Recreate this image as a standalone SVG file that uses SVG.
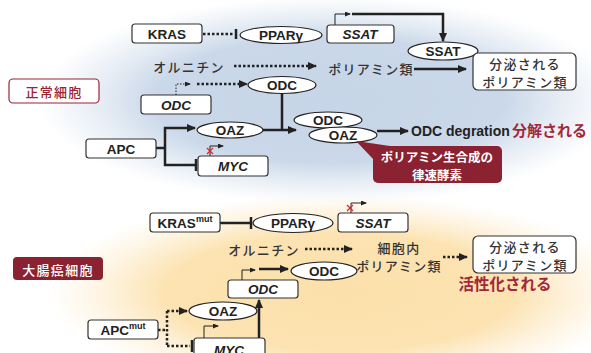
<svg xmlns="http://www.w3.org/2000/svg" width="591" height="353" viewBox="0 0 591 353">
<defs>
<radialGradient id="gBlue" cx="0.5" cy="0.5" r="0.5">
<stop offset="0" stop-color="#c6d5e7"/>
<stop offset="0.6" stop-color="#cad8e9"/>
<stop offset="1" stop-color="#d6e1ee" stop-opacity="0"/>
</radialGradient>
<radialGradient id="gBeige" cx="0.5" cy="0.5" r="0.5">
<stop offset="0" stop-color="#fbe0aa"/>
<stop offset="0.6" stop-color="#fce3b2"/>
<stop offset="1" stop-color="#fdebc8" stop-opacity="0"/>
</radialGradient>
<marker id="ah" markerWidth="9" markerHeight="8" refX="8" refY="4" orient="auto" markerUnits="userSpaceOnUse"><path d="M0,0 L9,4 L0,8 z" fill="#222"/></marker>
<marker id="ahs" markerWidth="6" markerHeight="5" refX="5" refY="2.5" orient="auto" markerUnits="userSpaceOnUse"><path d="M0,0 L6,2.5 L0,5 z" fill="#222"/></marker>
<style>
.box{fill:#fff;stroke:#333;stroke-width:1.2}
.ell{fill:#fff;stroke:#222;stroke-width:1.2}
.t{font-family:"Liberation Sans",Arial,sans-serif;font-weight:bold;font-size:13.5px;fill:#222;text-anchor:middle;dominant-baseline:central}
.ti{font-style:italic}
.jp{font-family:"Noto Sans CJK JP","Noto Sans",sans-serif;font-size:13px;fill:#333;font-weight:500;letter-spacing:1.3px;text-anchor:middle;dominant-baseline:central}
.s{fill:none;stroke:#222;stroke-width:2.5}
.d{fill:none;stroke:#222;stroke-width:2.5;stroke-dasharray:2.5 2}
.p{fill:none;stroke:#222;stroke-width:1}
.pd{fill:none;stroke:#222;stroke-width:1;stroke-dasharray:1.5 1.5}
.x{stroke:#d8282e;stroke-width:1.3}
.red{font-family:"Noto Sans CJK JP","Noto Sans",sans-serif;font-weight:bold;fill:#a3273a;dominant-baseline:central}
.wt{font-family:"Noto Sans CJK JP","Noto Sans",sans-serif;font-weight:bold;font-size:12.5px;fill:#fff;text-anchor:middle;dominant-baseline:central}
</style>
</defs>

<g id="backgrounds">
<ellipse cx="330" cy="100" rx="292" ry="104" fill="url(#gBlue)"/>
<ellipse cx="340" cy="292" rx="292" ry="98" fill="url(#gBeige)"/>
</g>

<g id="connectors">
<!-- top -->
<path class="d" d="M203,34 H234"/>
<line class="s" x1="236" y1="29" x2="236" y2="39"/>
<path class="p" d="M335,25 V14 H350" marker-end="url(#ahs)"/>
<path class="s" d="M352,14 H443 V41" marker-end="url(#ah)"/>
<path class="d" d="M234,66 H316" marker-end="url(#ah)"/>
<path class="s" d="M414,69 H466" marker-end="url(#ah)"/>
<path class="pd" d="M176,95 V84 H190" marker-end="url(#ahs)"/>
<path class="d" d="M197,84 H247" marker-end="url(#ah)"/>
<path class="s" d="M282,93.5 V130"/>
<path class="s" d="M263,130 H296" marker-end="url(#ah)"/>
<path class="s" d="M377,131 H408" marker-end="url(#ah)"/>
<path class="s" d="M156,148 H165 M165,127 V166"/>
<path class="s" d="M164,128 H195" marker-end="url(#ah)"/>
<path class="s" d="M164,165 H195"/>
<line class="s" x1="196" y1="159" x2="196" y2="171"/>
<path class="p" d="M210,156 V146 H223" marker-end="url(#ahs)"/>
<line class="x" x1="207" y1="148" x2="213" y2="154"/>
<line class="x" x1="213" y1="148" x2="207" y2="154"/>
<!-- bottom -->
<path class="s" d="M220,223 H250"/>
<line class="s" x1="251" y1="217" x2="251" y2="229"/>
<path class="p" d="M351,213 V203 H366" marker-end="url(#ahs)"/>
<line class="x" x1="347" y1="205" x2="353" y2="211"/>
<line class="x" x1="353" y1="205" x2="347" y2="211"/>
<path class="d" d="M305,249 H352" marker-end="url(#ah)"/>
<path class="d" d="M443,257 H467" marker-end="url(#ah)"/>
<path class="p" d="M242,280 V270 H255" marker-end="url(#ahs)"/>
<path class="s" d="M259,269 H288" marker-end="url(#ah)"/>
<path class="d" d="M158,330 H167 M167,311 V346"/>
<path class="d" d="M167,311 H187" marker-end="url(#ah)"/>
<path class="d" d="M167,346 H190"/>
<line class="s" x1="192" y1="340" x2="192" y2="352"/>
<path class="p" d="M204,338 V326 H218" marker-end="url(#ahs)"/>
<path class="s" d="M259,338 V300" marker-end="url(#ah)"/>
</g>

<!-- top section nodes -->
<g id="normal-label"><rect x="9" y="79" width="90" height="24" rx="4" fill="#fff" stroke="#9b2335" stroke-width="1.2"/><text class="jp" x="54" y="91" style="fill:#9b2335">正常細胞</text></g>
<g id="kras"><rect class="box" x="132" y="24" width="70" height="19" rx="3"/><text class="t" x="167" y="34">KRAS</text></g>
<g id="ppar"><ellipse class="ell" cx="281" cy="35" rx="41" ry="8.5"/><text class="t" x="281" y="35">PPARγ</text></g>
<g id="ssat-gene"><rect class="box" x="327" y="25" width="67" height="18" rx="3"/><text class="t ti" x="360" y="34">SSAT</text></g>
<g id="ssat"><ellipse class="ell" cx="443" cy="51" rx="35" ry="9"/><text class="t" x="443" y="51">SSAT</text></g>
<g id="ornithine"><text class="jp" x="189" y="66">オルニチン</text></g>
<g id="polyamine"><text class="jp" x="371" y="68">ポリアミン類</text></g>
<g id="secreted"><rect class="box" x="473" y="53" width="103" height="37" rx="5"/><text class="jp" x="525" y="63">分泌される</text><text class="jp" x="525" y="81">ポリアミン類</text></g>
<g id="odc-gene"><rect class="box" x="141" y="95" width="70" height="19" rx="3"/><text class="t ti" x="176" y="105">ODC</text></g>
<g id="odc"><ellipse class="ell" cx="282" cy="85" rx="34" ry="8.5"/><text class="t" x="282" y="85">ODC</text></g>
<g id="oaz"><ellipse class="ell" cx="230" cy="130" rx="33" ry="8"/><text class="t" x="230" y="130">OAZ</text></g>
<g id="complex"><ellipse class="ell" cx="328" cy="120" rx="34" ry="8"/><text class="t" x="328" y="120">ODC</text><ellipse class="ell" cx="343" cy="135" rx="34" ry="8"/><text class="t" x="343" y="135">OAZ</text></g>
<g id="degradation"><text class="t" x="411" y="131" style="text-anchor:start;font-size:14px">ODC degration</text><text class="red" x="512" y="129" style="font-size:15px">分解される</text></g>
<g id="callout"><polygon points="356,141 390,146 374,160" fill="#8b2232"/><rect x="373" y="146" width="129" height="37" rx="5" fill="#8b2232"/><text class="wt" x="437" y="156">ポリアミン生合成の</text><text class="wt" x="437" y="174">律速酵素</text></g>
<g id="apc"><rect class="box" x="86" y="139" width="70" height="19" rx="3"/><text class="t" x="121" y="149">APC</text></g>
<g id="myc"><rect class="box" x="198" y="156" width="70" height="20" rx="3"/><text class="t ti" x="233" y="166">MYC</text></g>

<!-- bottom section nodes -->
<g id="cancer-label"><rect x="13" y="257" width="90" height="23" rx="4" fill="#8b2232"/><text class="jp" x="58" y="269" style="fill:#fff">大腸癌細胞</text></g>
<g id="kras-mut"><rect class="box" x="150" y="213" width="70" height="19" rx="3"/><text class="t" x="185" y="223">KRAS<tspan font-size="9" dy="-4">mut</tspan></text></g>
<g id="ppar2"><ellipse class="ell" cx="293" cy="223" rx="40" ry="9.5"/><text class="t" x="293" y="223">PPARγ</text></g>
<g id="ssat-gene2"><rect class="box" x="338" y="213" width="70" height="19" rx="3"/><text class="t ti" x="373" y="223">SSAT</text></g>
<g id="ornithine2"><text class="jp" x="264" y="249">オルニチン</text></g>
<g id="polyamine2"><text class="jp" x="399" y="247">細胞内</text><text class="jp" x="399" y="265">ポリアミン類</text></g>
<g id="secreted2"><rect class="box" x="473" y="236" width="103" height="37" rx="5"/><text class="jp" x="525" y="246">分泌される</text><text class="jp" x="525" y="264">ポリアミン類</text></g>
<g id="activated"><text class="red" x="505" y="283" style="font-size:15.5px;text-anchor:middle">活性化される</text></g>
<g id="odc2"><ellipse class="ell" cx="324" cy="271" rx="33" ry="9"/><text class="t" x="324" y="271">ODC</text></g>
<g id="odc-gene2"><rect class="box" x="228" y="280" width="70" height="18" rx="3"/><text class="t ti" x="263" y="289">ODC</text></g>
<g id="oaz2"><ellipse class="ell" cx="223" cy="311" rx="34" ry="9"/><text class="t" x="223" y="311">OAZ</text></g>
<g id="apc-mut"><rect class="box" x="88" y="320" width="70" height="19" rx="3"/><text class="t" x="123" y="330">APC<tspan font-size="9" dy="-4">mut</tspan></text></g>
<g id="myc2"><rect class="box" x="194" y="338" width="71" height="24" rx="3"/><text class="t ti" x="229" y="350">MYC</text></g>
</svg>
